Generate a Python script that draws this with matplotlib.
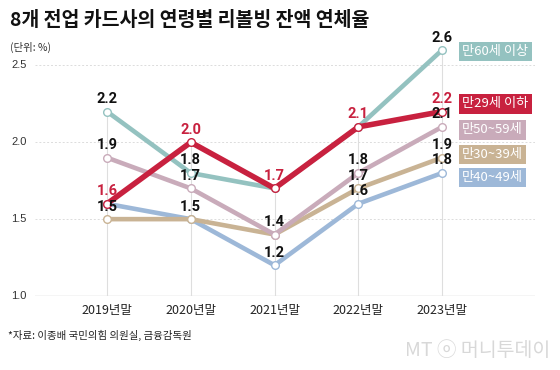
import matplotlib
matplotlib.use("Agg")
import matplotlib.pyplot as plt

plt.rcParams['font.family'] = ['Noto Sans CJK KR', 'DejaVu Sans']

categories = ["2019년말", "2020년말", "2021년말", "2022년말", "2023년말"]
series_names = ["만40~49세", "만30~39세", "만50~59세", "만60세 이상", "만29세 이하"]
v40s = [1.6, 1.5, 1.2, 1.6, 1.8]
v30s = [1.5, 1.5, 1.4, 1.7, 1.9]
v50s = [1.9, 1.7, 1.4, 1.8, 2.1]
v60s = [2.2, 1.8, 1.7, 2.1, 2.6]
v29 = [1.6, 2.0, 1.7, 2.1, 2.2]
yticks = [1.0, 1.5, 2.0, 2.5]

values = [v40s, v30s, v50s, v60s, v29]
colors = ["#9db8d8", "#c9b394", "#c9abba", "#94c2c0", "#c8213f"]
widths = [3.3, 3.3, 3.3, 3.3, 4.0]

# which labels to show (per series, per point) and label colours
show = [
    [False, True, True, True, True],    # 40s
    [True, False, False, True, True],   # 30s
    [True, True, True, True, True],     # 50s
    [True, True, False, False, True],   # 60s
    [True, True, True, True, True],     # 29
]
label_colors = ["#111111", "#111111", "#111111", "#111111", "#c8213f"]

fig = plt.figure(figsize=(5.6, 3.7), dpi=100)
ax = fig.add_axes([35/560, (370-296)/370, 500/560, 269/370])
x = list(range(len(categories)))
ax.set_xlim(-0.86, 5.11)
ax.set_ylim(1.0, 2.75)

for s in ax.spines.values():
    s.set_visible(False)
ax.set_xticks([])
ax.set_yticks([])

# gridlines
for yv in yticks:
    if yv == 1.0:
        ax.axhline(yv, color="#b5b5b5", lw=0.9, zorder=1)
    else:
        ax.axhline(yv, color="#dcdcdc", lw=0.7, ls=(0, (2, 2)), zorder=1)
    ax.text(-0.86 - 0.1, yv, f"{yv:.1f}", ha="right", va="center",
            fontsize=8, color="#333333", family=['Liberation Sans', 'DejaVu Sans'])

# vertical lines
for i in x:
    top = max(v[i] for v in values)
    ax.plot([i, i], [1.0, top], color="#dedede", lw=0.8, zorder=1)

for k, (vals, c, w) in enumerate(zip(values, colors, widths)):
    ax.plot(x, vals, color=c, lw=w, zorder=3 + k, solid_capstyle="round",
            marker="o", markersize=5.5, markerfacecolor="white",
            markeredgecolor=c, markeredgewidth=1.0)
    for i, v in enumerate(vals):
        if show[k][i]:
            ax.annotate(f"{v:.1f}", (i, v), xytext=(0, 4), textcoords="offset points",
                        ha="center", va="bottom", fontsize=10.5, fontweight="bold",
                        color=label_colors[k], zorder=20,
                        family=['Roboto', 'DejaVu Sans'])

# x labels
for i, c in enumerate(categories):
    ax.text(i, 0.95, c, ha="center", va="top", fontsize=9, color="#222222")

# legend boxes
legend_y = {"만60세 이상": 2.59, "만29세 이하": 2.25, "만50~59세": 2.08,
            "만30~39세": 1.92, "만40~49세": 1.77}
for name, c in zip(series_names, colors):
    ax.text(4.24, legend_y[name], name, ha="left", va="center", fontsize=9.5,
            color="white", zorder=25,
            bbox=dict(boxstyle="square,pad=0.25", facecolor=c, edgecolor="none"))

fig.text(10/560, 1 - 20/370, "8개 전업 카드사의 연령별 리볼빙 잔액 연체율",
         ha="left", va="center", fontsize=14, fontweight="bold", color="#111111")
fig.text(10/560, 1 - 47/370, "(단위: %)", ha="left", va="center", fontsize=7.5,
         color="#333333")
fig.text(8/560, 1 - 335/370, "*자료: 이종배 국민의힘 의원실, 금융감독원", ha="left",
         va="center", fontsize=7.5, color="#222222")
fig.text(550/560, 1 - 350/370, "MT ⓞ 머니투데이", ha="right", va="center",
         fontsize=14, color="#d8d8d8", fontstyle="italic")

fig.savefig("out.png", dpi=100, facecolor="white")
